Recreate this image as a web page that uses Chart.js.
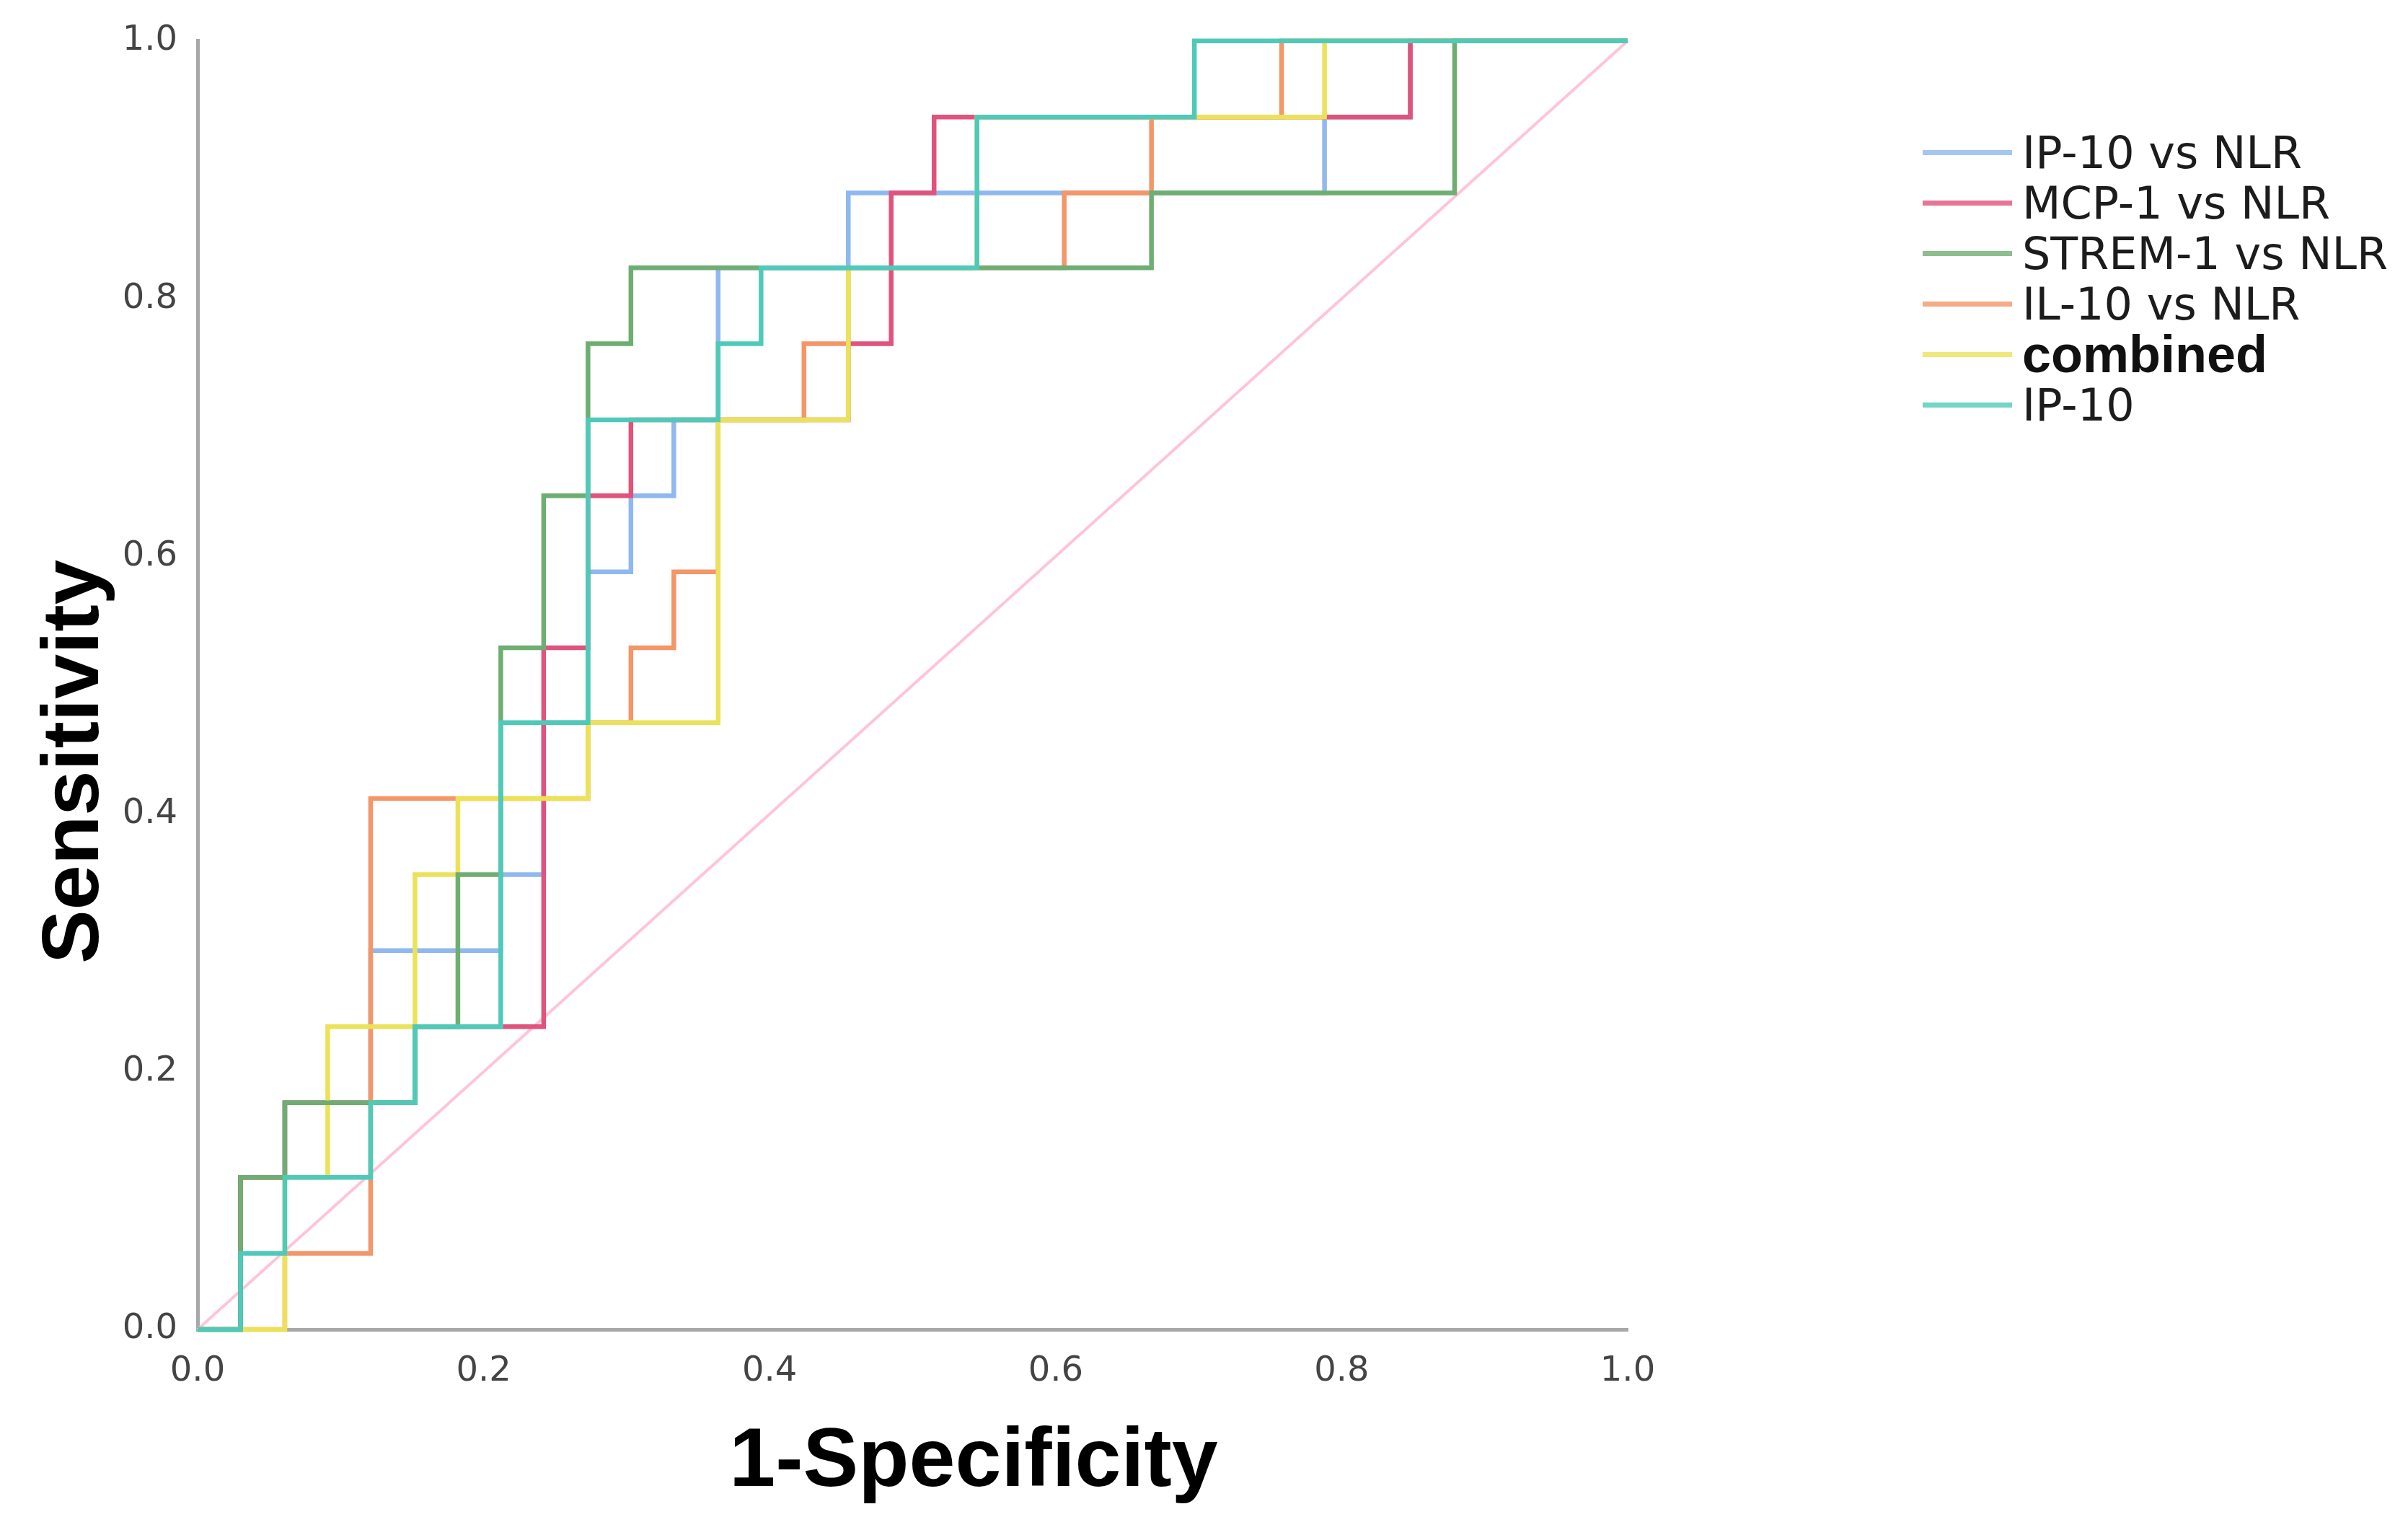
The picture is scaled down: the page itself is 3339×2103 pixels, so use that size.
<!DOCTYPE html>
<html>
<head>
<meta charset="utf-8">
<script src="https://cdn.jsdelivr.net/npm/chart.js@4.4.1/dist/chart.umd.min.js"></script>
<style>
  html, body { margin: 0; padding: 0; background: #fff; }
  #wrap { position: relative; width: 3339px; height: 2103px; }
  #roc { position: absolute; left: 0; top: 0; }
  #legend { position: absolute; left: 2666px; top: 176px; margin: 0; padding: 0; list-style: none;
            font-family: 'DejaVu Sans', sans-serif; font-size: 62px; color: #1c1c1c; }
  #legend li { display: flex; align-items: center; height: 70px; white-space: nowrap; }
  #legend .swatch { width: 124px; height: 7px; margin-right: 14px; flex: none; }
  #legend .bold { font-family: 'Liberation Sans', Arial, sans-serif; font-weight: bold; font-size: 72px; color: #111; }
</style>
</head>
<body>
<div id="wrap">
  <canvas id="roc" width="3339" height="2103"></canvas>
  <ul id="legend"></ul>
</div>
<script>
// series names (legend order)
const seriesNames = ['IP-10 vs NLR', 'MCP-1 vs NLR', 'STREM-1 vs NLR', 'IL-10 vs NLR', 'combined', 'IP-10'];

// ROC corners: 1-specificity / sensitivity
const ip10NlrFpr  = [0, 0.030, 0.061, 0.121, 0.212, 0.242, 0.273, 0.303, 0.333, 0.364, 0.455, 0.788, 0.848, 1];
const ip10NlrTpr  = [0, 0.118, 0.176, 0.294, 0.353, 0.471, 0.588, 0.647, 0.706, 0.824, 0.882, 0.941, 1, 1];
const mcp1NlrFpr  = [0, 0.030, 0.061, 0.152, 0.242, 0.273, 0.303, 0.455, 0.485, 0.515, 0.848, 1];
const mcp1NlrTpr  = [0, 0.118, 0.176, 0.235, 0.529, 0.647, 0.706, 0.765, 0.882, 0.941, 1, 1];
const strem1NlrFpr = [0, 0.030, 0.061, 0.152, 0.182, 0.212, 0.242, 0.273, 0.303, 0.667, 0.879, 1];
const strem1NlrTpr = [0, 0.118, 0.176, 0.235, 0.353, 0.529, 0.647, 0.765, 0.824, 0.882, 1, 1];
const il10NlrFpr  = [0, 0.061, 0.121, 0.273, 0.303, 0.333, 0.364, 0.424, 0.455, 0.606, 0.667, 0.758, 1];
const il10NlrTpr  = [0, 0.059, 0.412, 0.471, 0.529, 0.588, 0.706, 0.765, 0.824, 0.882, 0.941, 1, 1];
const combinedFpr = [0, 0.061, 0.091, 0.152, 0.182, 0.273, 0.364, 0.455, 0.545, 0.788, 1];
const combinedTpr = [0, 0.118, 0.235, 0.353, 0.412, 0.471, 0.706, 0.824, 0.941, 1, 1];
const ip10Fpr     = [0, 0.030, 0.061, 0.121, 0.152, 0.212, 0.273, 0.364, 0.394, 0.545, 0.697, 1];
const ip10Tpr     = [0, 0.059, 0.118, 0.176, 0.235, 0.471, 0.706, 0.765, 0.824, 0.941, 1, 1];
// reference diagonal
const refFpr = [0, 1];
const refTpr = [0, 1];

const tickValues = [0, 0.2, 0.4, 0.6, 0.8, 1.0];
const xTitle = '1-Specificity';
const yTitle = 'Sensitivity';

const fprs = [ip10NlrFpr, mcp1NlrFpr, strem1NlrFpr, il10NlrFpr, combinedFpr, ip10Fpr];
const tprs = [ip10NlrTpr, mcp1NlrTpr, strem1NlrTpr, il10NlrTpr, combinedTpr, ip10Tpr];

const lineColors = ['#8fb9ee', '#e0537c', '#6fae72', '#f49668', '#ebe25a', '#4fcab8'];
const drawOrder  = [6, 5, 2, 4, 3, 1]; // lower = drawn on top

function toPoints(xs, ys) {
  return xs.map((x, i) => ({ x: x, y: ys[i] }));
}

const datasets = seriesNames.map((name, i) => ({
  label: name,
  data: toPoints(fprs[i], tprs[i]),
  borderColor: lineColors[i],
  backgroundColor: lineColors[i],
  borderWidth: 6.5,
  stepped: 'before',
  pointRadius: 0,
  fill: false,
  clip: false,
  order: drawOrder[i]
}));
datasets.push({
  label: 'reference',
  data: toPoints(refFpr, refTpr),
  borderColor: '#ffc4d8',
  borderWidth: 4,
  pointRadius: 0,
  fill: false,
  clip: false,
  order: 10
});

const axisTitles = {
  id: 'axisTitles',
  afterDraw(chart) {
    const ctx = chart.ctx;
    ctx.save();
    ctx.fillStyle = '#000';
    ctx.font = 'bold 115px "Liberation Sans", Arial, sans-serif';
    ctx.textAlign = 'center';
    ctx.textBaseline = 'alphabetic';
    ctx.fillText(xTitle, 1350, 2060);
    ctx.font = 'bold 112px "Liberation Sans", Arial, sans-serif';
    ctx.translate(136, 1056);
    ctx.rotate(-Math.PI / 2);
    ctx.fillText(yTitle, 0, 0);
    ctx.restore();
  }
};

const htmlLegend = {
  id: 'htmlLegend',
  afterUpdate(chart) {
    const ul = document.getElementById('legend');
    ul.innerHTML = '';
    chart.data.datasets.forEach((ds) => {
      if (ds.label === 'reference') return;
      const li = document.createElement('li');
      const sw = document.createElement('span');
      sw.className = 'swatch';
      sw.style.background = ds.borderColor;
      sw.style.opacity = 0.8;
      const tx = document.createElement('span');
      tx.textContent = ds.label;
      if (ds.label === 'combined') tx.className = 'bold';
      li.appendChild(sw);
      li.appendChild(tx);
      ul.appendChild(li);
    });
  }
};

const tickFont = { family: "'DejaVu Sans', sans-serif", size: 48 };

new Chart(document.getElementById('roc'), {
  type: 'line',
  data: { datasets: datasets },
  plugins: [axisTitles, htmlLegend],
  options: {
    responsive: false,
    devicePixelRatio: 1,
    animation: false,
    layout: { padding: { left: 0, top: 47, right: 1082, bottom: 0 } },
    plugins: { legend: { display: false }, tooltip: { enabled: false } },
    scales: {
      x: {
        type: 'linear', min: 0, max: 1,
        afterBuildTicks: s => { s.ticks = tickValues.map(v => ({ value: v })); },
        afterFit: s => { s.height = 260; },
        ticks: { callback: v => v.toFixed(1), font: tickFont, color: '#444', padding: 30, maxRotation: 0 },
        grid: { display: false, drawTicks: false },
        border: { color: '#a8a8a8', width: 5 }
      },
      y: {
        type: 'linear', min: 0, max: 1,
        afterBuildTicks: s => { s.ticks = tickValues.map(v => ({ value: v })); },
        afterFit: s => { s.width = 274; },
        ticks: { callback: v => v.toFixed(1), font: tickFont, color: '#444', padding: 28 },
        grid: { display: false, drawTicks: false },
        border: { color: '#a8a8a8', width: 5 }
      }
    }
  }
});
</script>
</body>
</html>
